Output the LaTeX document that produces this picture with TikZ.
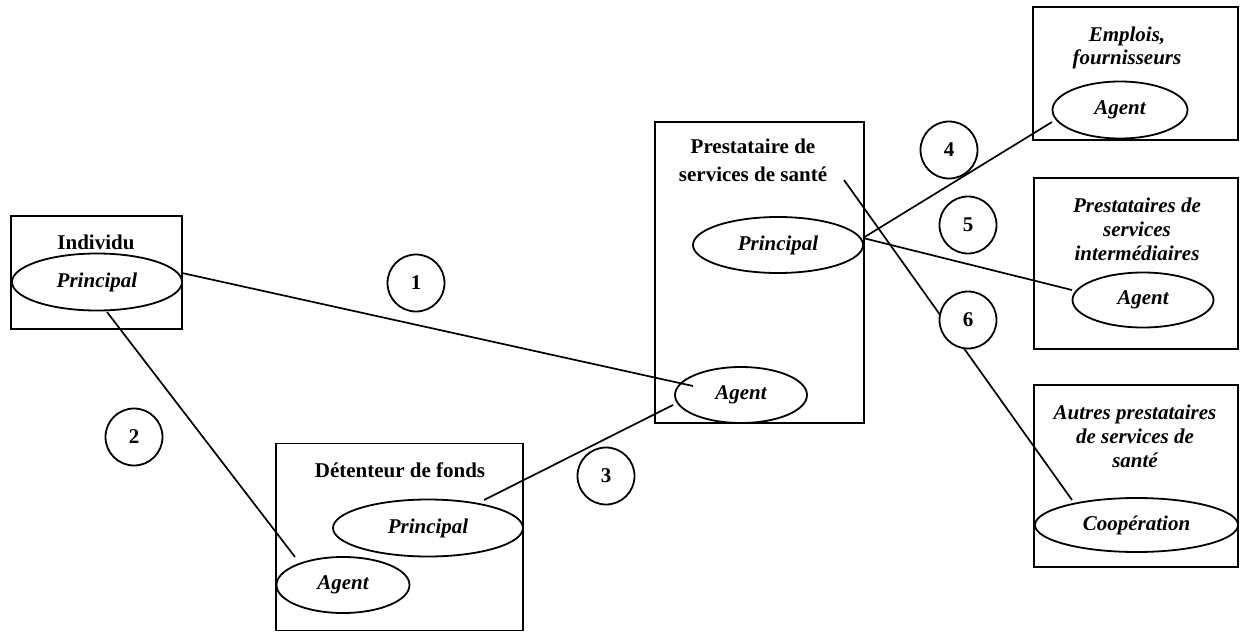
\documentclass[tikz,border=0pt]{standalone}
\usepackage{fontspec}
\setmainfont{Liberation Serif}
\usetikzlibrary{shapes.geometric}
\begin{document}
\begin{tikzpicture}[x=1pt,y=-1pt,
  box/.style={draw,line width=1.9pt,rectangle,inner sep=0pt},
  oval/.style={draw,line width=1.8pt,ellipse,inner sep=0pt,font=\fontsize{21}{24}\selectfont\bfseries\itshape},
  title/.style={align=center,inner sep=0pt,font=\fontsize{21}{24}\selectfont\bfseries},
  ititle/.style={title,font=\fontsize{21}{24}\selectfont\bfseries\itshape},
  link/.style={line width=1.7pt},
  num/.style={draw,circle,fill=white,line width=1.8pt,minimum size=57pt,inner sep=0pt,font=\fontsize{21}{24}\selectfont\bfseries}]
\useasboundingbox (0,0) rectangle (1240,632);

% boxes
\node[box,minimum width=171pt,minimum height=113pt] (indB) at (96.5,272.5) {};
\node[box,minimum width=247pt,minimum height=187pt] (detB) at (399.5,537) {};
\node[box,minimum width=209pt,minimum height=301pt] (prB) at (759.5,272.5) {};
\node[box,minimum width=205pt,minimum height=133pt] (emB) at (1135.5,73.5) {};
\node[box,minimum width=204pt,minimum height=171pt] (inB) at (1136,263.5) {};
\node[box,minimum width=204pt,minimum height=182pt] (auB) at (1136,476) {};

% titles
\node[title] (indT) at (96,242) {Individu};
\node[title] (detT) at (400,470) {Détenteur de fonds};
\node[title,font=\fontsize{21}{28}\selectfont\bfseries] (prT) at (753,160) {Prestataire de\\services de santé};
\node[ititle,font=\fontsize{21}{23}\selectfont\bfseries\itshape] (emT) at (1127,48) {Emplois,\\fournisseurs};
\node[ititle] (inT) at (1137,229) {Prestataires de\\services\\intermédiaires};
\node[ititle] (auT) at (1135,436) {Autres prestataires\\de services de\\santé};

% ellipses
\node[oval,minimum width=170pt,minimum height=57pt] (indP) at (97,282) {Principal};
\node[oval,minimum width=190pt,minimum height=57pt] (detP) at (428,528) {Principal};
\node[oval,minimum width=133pt,minimum height=56pt] (detA) at (343,585) {Agent};
\node[oval,minimum width=170pt,minimum height=56pt] (prP) at (778,245) {Principal};
\node[oval,minimum width=132pt,minimum height=56pt] (agP) at (741,395) {Agent};
\node[oval,minimum width=135pt,minimum height=57pt] (emA) at (1120,110) {Agent};
\node[oval,minimum width=141pt,minimum height=55pt] (inA) at (1143,300) {Agent};
\node[oval,minimum width=203pt,minimum height=54pt] (coop) at (1136.5,525) {Coopération};

% connectors
\draw[link] ([shift={(85,-9)}]indP.center) -- ([shift={(-48,-9)}]agP.center);
\draw[link] ([shift={(10,30)}]indP.center) -- ([shift={(-48,-28)}]detA.center);
\draw[link] ([shift={(56,-28)}]detP.center) -- ([shift={(-68,10)}]agP.center);
\draw[link] ([shift={(85,-7)}]prP.center) -- ([shift={(-68,12)}]emA.center);
\draw[link] ([shift={(85,-7)}]prP.center) -- ([shift={(-71,-10)}]inA.center);
\draw[link] ([shift={(84.5,-92.5)}]prB.center) -- ([shift={(-64.5,-25)}]coop.center);

% numbered circles
\node[num] (n1) at (416,283) {1};
\node[num] (n2) at (134,437) {2};
\node[num] (n3) at (606,476) {3};
\node[num] (n4) at (949,150) {4};
\node[num] (n5) at (968,225) {5};
\node[num] (n6) at (968,320) {6};
\end{tikzpicture}
\end{document}
